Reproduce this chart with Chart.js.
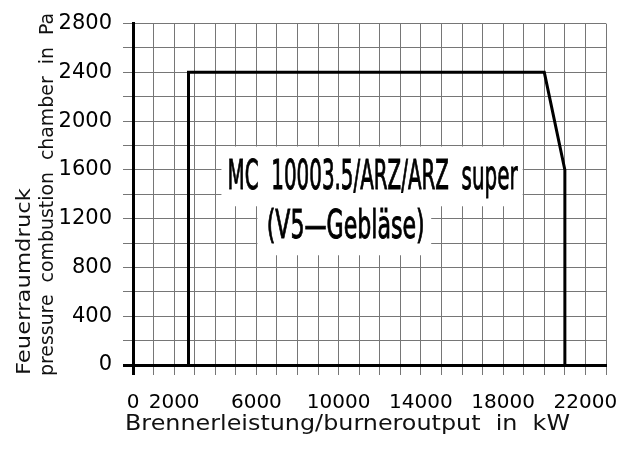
<!DOCTYPE html>
<html>
<head>
<meta charset="utf-8">
<script src="https://cdn.jsdelivr.net/npm/chart.js@4.4.0/dist/chart.umd.min.js"></script>
<style>
  html, body { margin: 0; padding: 0; background: #fff; }
  #wrap { width: 638px; height: 449px; }
</style>
</head>
<body>
<div id="wrap"><canvas id="chart"></canvas></div>
<script>
// Operating range of the burner (corner points of the curve)
const burnerOutput = [2700, 2700, 20000, 21000, 21000];       // kW
const chamberPressure = [0, 2400, 2400, 1600, 0];             // Pa

// Labelled ticks
const xTickLabels = [0, 2000, 6000, 10000, 14000, 18000, 22000];
const yTickLabels = [0, 400, 800, 1200, 1600, 2000, 2400, 2800];

const labelLines = ['MC  10003.5/ARZ/ARZ  super', '(V5\u2014Gebläse)'];
const xTitle = 'Brennerleistung/burneroutput  in  kW';
const yTitle = ['Feuerraumdruck', 'pressure  combustion  chamber  in  Pa'];

const GRID = '#767676';

// draw text squeezed/stretched to a given width
function fitText(ctx, text, x, y, width, font, stroke) {
  ctx.save();
  ctx.font = font;
  const w = ctx.measureText(text).width;
  ctx.translate(x, y);
  ctx.scale(width / w, 1);
  ctx.fillText(text, 0, 0);
  if (stroke) {
    ctx.lineWidth = stroke;
    ctx.strokeStyle = ctx.fillStyle;
    ctx.strokeText(text, 0, 0);
  }
  ctx.restore();
}

// white boxes with the model name, and the two axis titles
const annotations = {
  id: 'annotations',
  afterDatasetsDraw(chart) {
    const ctx = chart.ctx;
    const xs = chart.scales.x, ys = chart.scales.y;
    const px = v => xs.getPixelForValue(v);
    const py = v => ys.getPixelForValue(v);

    ctx.save();
    ctx.fillStyle = '#fff';
    ctx.fillRect(px(4300), py(1800) + 1, px(18950) - px(4300), py(1310) - py(1800));
    ctx.fillRect(px(6050), py(1400), px(14500) - px(6050), py(900) - py(1400));

    ctx.fillStyle = '#000';
    ctx.textBaseline = 'alphabetic';
    fitText(ctx, labelLines[0], px(4600), py(1440), 290, '41px "DejaVu Sans"', 1);
    fitText(ctx, labelLines[1], px(6500), py(1045), 158, '39px "DejaVu Sans"', 1);

    // axis titles
    ctx.fillStyle = '#111';
    fitText(ctx, xTitle, 125, 430, 445, '22px "DejaVu Sans"');

    ctx.save();
    ctx.rotate(-Math.PI / 2);
    fitText(ctx, yTitle[0], -375, 30, 187, '20px "DejaVu Sans"');
    fitText(ctx, yTitle[1], -376, 53, 363, '20px "DejaVu Sans"');
    ctx.restore();
    ctx.restore();
  }
};

new Chart(document.getElementById('chart'), {
  type: 'line',
  data: {
    datasets: [{
      data: burnerOutput.map((x, i) => ({ x: x, y: chamberPressure[i] })),
      borderColor: '#000',
      borderWidth: 3,
      pointRadius: 0,
      tension: 0,
      fill: false
    }]
  },
  options: {
    responsive: true,
    maintainAspectRatio: false,
    animation: false,
    layout: { padding: { left: 0, top: 22, right: 32, bottom: 0 } },
    plugins: {
      legend: { display: false },
      tooltip: { enabled: false }
    },
    scales: {
      x: {
        type: 'linear',
        min: 0,
        max: 23000,
        afterFit: s => { s.height = 449 - 365; },
        ticks: {
          stepSize: 1000,
          autoSkip: false,
          maxRotation: 0,
          padding: 16,
          color: '#000',
          font: { family: 'DejaVu Sans', size: 20 },
          callback: v => xTickLabels.includes(v) ? String(v) : ''
        },
        grid: {
          color: GRID,
          lineWidth: 1,
          tickLength: 10,
          tickColor: c => c.tick && c.tick.value === 0 ? '#000' : GRID,
          tickWidth: c => c.tick && c.tick.value === 0 ? 3 : 1
        },
        border: { color: '#000', width: 3 }
      },
      y: {
        min: 0,
        max: 2800,
        afterFit: s => { s.width = 133; },
        ticks: {
          stepSize: 200,
          autoSkip: false,
          padding: 11,
          color: '#000',
          font: { family: 'DejaVu Sans', size: 21 },
          callback: v => yTickLabels.includes(v) ? String(v) : ''
        },
        grid: {
          color: GRID,
          lineWidth: 1,
          tickLength: 10,
          tickColor: c => c.tick && c.tick.value === 0 ? '#000' : GRID,
          tickWidth: c => c.tick && c.tick.value === 0 ? 3 : 1
        },
        border: { color: '#000', width: 3 }
      }
    }
  },
  plugins: [annotations]
});
</script>
</body>
</html>
